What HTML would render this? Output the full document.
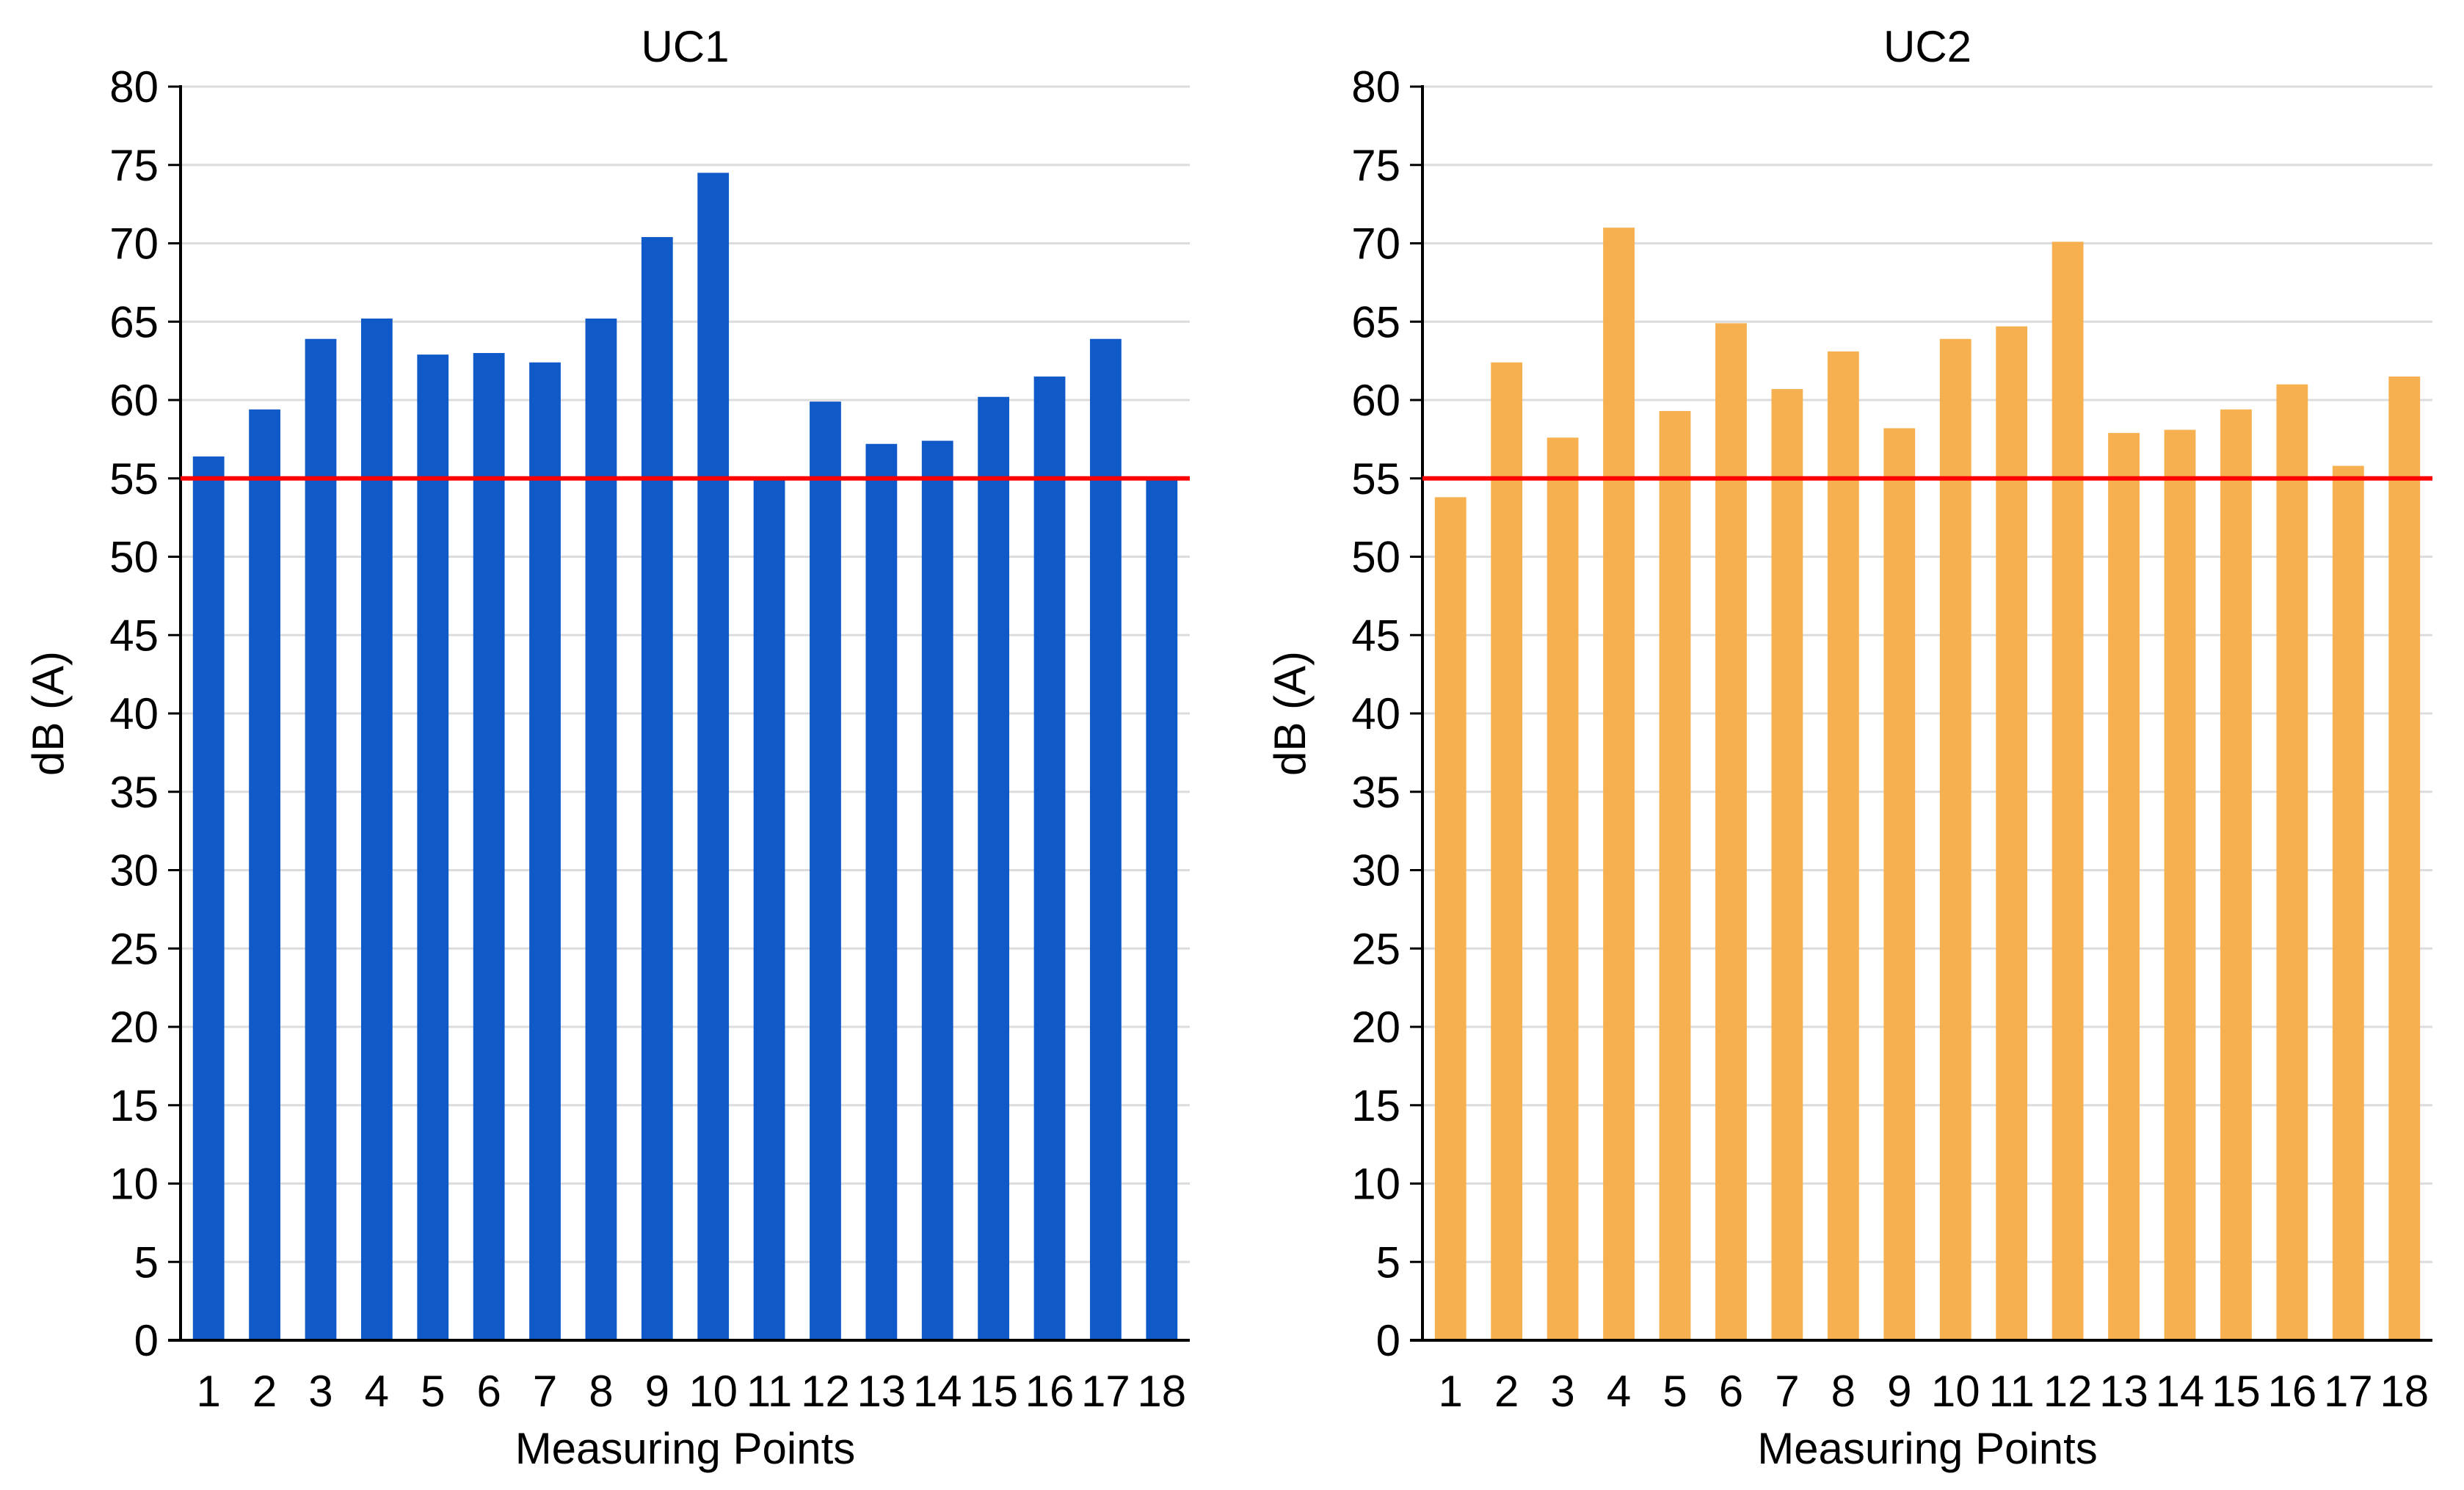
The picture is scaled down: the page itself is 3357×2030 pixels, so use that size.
<!DOCTYPE html>
<html><head><meta charset="utf-8"><style>
body{margin:0;background:#fff;}
svg{display:block;font-family:"Liberation Sans",sans-serif;}
</style></head><body>
<svg id="chart" width="3357" height="2030" xmlns="http://www.w3.org/2000/svg"></svg>
<script>
const categories = ["1","2","3","4","5","6","7","8","9","10","11","12","13","14","15","16","17","18"];
const uc1Values = [56.4,59.4,63.9,65.2,62.9,63.0,62.4,65.2,70.4,74.5,55.0,59.9,57.2,57.4,60.2,61.5,63.9,55.0];
const uc2Values = [53.8,62.4,57.6,71.0,59.3,64.9,60.7,63.1,58.2,63.9,64.7,70.1,57.9,58.1,59.4,61.0,55.8,61.5];
const yTicks = [0,5,10,15,20,25,30,35,40,45,50,55,60,65,70,75,80];
const thresholdValue = 55;
const panelTitles = ["UC1","UC2"];

const NS = "http://www.w3.org/2000/svg";
const svgRoot = document.getElementById("chart");
function mk(tag, attrs, parent){
  const e = document.createElementNS(NS, tag);
  for (const k in attrs) e.setAttribute(k, attrs[k]);
  (parent||svgRoot).appendChild(e);
  return e;
}
const plotTop = 118, plotBottom = 1826;
const panels = [
  {x0:246, x1:1621, values:uc1Values, color:"#0F59C9", name:"uc1"},
  {x0:1938, x1:3314, values:uc2Values, color:"#F7B050", name:"uc2"}
];
panels.forEach((p, pi) => {
  const g = mk("g", {});
  
  
  const y = v => plotBottom - (v/80)*(plotBottom-plotTop);
  const band = (p.x1 - p.x0)/categories.length;
  const xc = i => p.x0 + band*(i+0.5);
  yTicks.forEach(t => {
    const gl = mk("line", {x1:p.x0, x2:p.x1, y1:y(t), y2:y(t), stroke:"#dcdcdc", "stroke-width":3}, g);
    
    
    mk("line", {x1:p.x0-17, x2:p.x0, y1:y(t), y2:y(t), stroke:"#000", "stroke-width":3}, g);
    const tl = mk("text", {x:p.x0-30, y:y(t)+21, "text-anchor":"end", "font-size":60, fill:"#000"}, g);
    tl.textContent = t;
    
    
  });
  p.values.forEach((v, i) => {
    const w = band*0.56;
    const r = mk("rect", {x:xc(i)-w/2, y:y(v), width:w, height:plotBottom-y(v), fill:p.color}, g);
    
    
    const xl = mk("text", {x:xc(i), y:1916, "text-anchor":"middle", "font-size":60, fill:"#000"}, g);
    xl.textContent = categories[i];
    
    
  });
  const ax = mk("line", {x1:p.x0, x2:p.x0, y1:plotTop-2, y2:plotBottom+2, stroke:"#000", "stroke-width":4}, g);
  
  
  const bx = mk("line", {x1:p.x0-17, x2:p.x1, y1:plotBottom, y2:plotBottom, stroke:"#000", "stroke-width":4}, g);
  
  
  const th = mk("line", {x1:p.x0, x2:p.x1, y1:y(thresholdValue), y2:y(thresholdValue), stroke:"#ff0000", "stroke-width":6}, g);
  
  
  const tt = mk("text", {x:(p.x0+p.x1)/2, y:84, "text-anchor":"middle", "font-size":60, fill:"#000"}, g);
  tt.textContent = panelTitles[pi];
  
  
  const xt = mk("text", {x:(p.x0+p.x1)/2, y:1994, "text-anchor":"middle", "font-size":60, fill:"#000"}, g);
  xt.textContent = "Measuring Points";
  
  
  const yx = p.x0 - 160, yy = (plotTop+plotBottom)/2;
  const yt = mk("text", {x:yx, y:yy, "text-anchor":"middle", "font-size":60, fill:"#000", transform:`rotate(-90 ${yx} ${yy})`}, g);
  yt.textContent = "dB (A)";
  
  
});
</script>
</body></html>
